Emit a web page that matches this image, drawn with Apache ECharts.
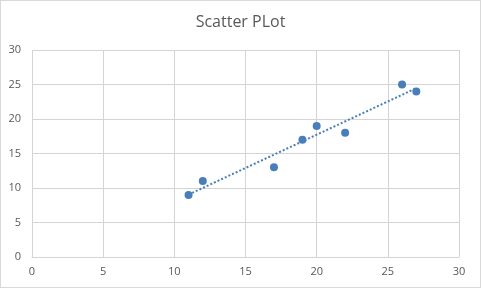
<!DOCTYPE html>
<html lang="en">
	<head>
		<meta charset="UTF-8" />
		<title>Scatter PLot</title>
		<script src="https://cdn.jsdelivr.net/npm/echarts@6.0.0/dist/echarts.min.js"></script>
		<style>
			body { margin: 0; }
			#main { width: 481px; height: 288px; box-sizing: border-box; border: 1px solid #d9d9d9; background: #fff; }
		</style>
	</head>
	<body>
		<div id="main"></div>
		<script type="text/javascript">
			// data
			const xValues = [11, 12, 17, 19, 20, 22, 26, 27];
			const yValues = [9, 11, 13, 17, 19, 18, 25, 24];
			const axisTicks = [0, 5, 10, 15, 20, 25, 30];

			// linear trendline through the points
			const n = xValues.length;
			const mx = xValues.reduce((a, b) => a + b, 0) / n;
			const my = yValues.reduce((a, b) => a + b, 0) / n;
			let sxy = 0, sxx = 0;
			xValues.forEach((x, i) => {
				sxy += (x - mx) * (yValues[i] - my);
				sxx += (x - mx) * (x - mx);
			});
			const slope = sxy / sxx;
			const icpt = my - slope * mx;
			const xMin = Math.min(...xValues);
			const xMax = Math.max(...xValues);

			const dotColor = "#4a7ebb";
			const labelStyle = { color: "#595959", fontFamily: "Open Sans", fontSize: 11 };
			const gridLine = { show: true, lineStyle: { color: "#d4d4d4", width: 1 } };

			let chart = echarts.init(document.getElementById("main"));
			chart.setOption({
				animation: false,
				title: {
					text: "Scatter PLot",
					left: "center",
					top: 8,
					textStyle: { color: "#595959", fontFamily: "Open Sans", fontSize: 16, fontWeight: "normal" },
				},
				grid: { left: 31, right: 21, top: 49, bottom: 30 },
				xAxis: {
					type: "value",
					min: axisTicks[0],
					max: axisTicks[axisTicks.length - 1],
					interval: 5,
					axisLine: { show: true, onZero: false, lineStyle: { color: "#d4d4d4" } },
					axisTick: { show: false },
					axisLabel: { ...labelStyle, margin: 9 },
					splitLine: gridLine,
				},
				yAxis: {
					type: "value",
					min: axisTicks[0],
					max: axisTicks[axisTicks.length - 1],
					interval: 5,
					axisLine: { show: false },
					axisTick: { show: false },
					axisLabel: { ...labelStyle, margin: 11 },
					splitLine: gridLine,
				},
				series: [
					{
						type: "line",
						data: [
							[xMin, slope * xMin + icpt],
							[xMax, slope * xMax + icpt],
						],
						showSymbol: false,
						lineStyle: { color: dotColor, width: 2, type: [2, 2] },
						z: 1,
					},
					{
						type: "scatter",
						data: xValues.map((x, i) => [x, yValues[i]]),
						symbolSize: 8,
						itemStyle: { color: dotColor, opacity: 1 },
						z: 2,
					},
				],
			});
		</script>
	</body>
</html>
